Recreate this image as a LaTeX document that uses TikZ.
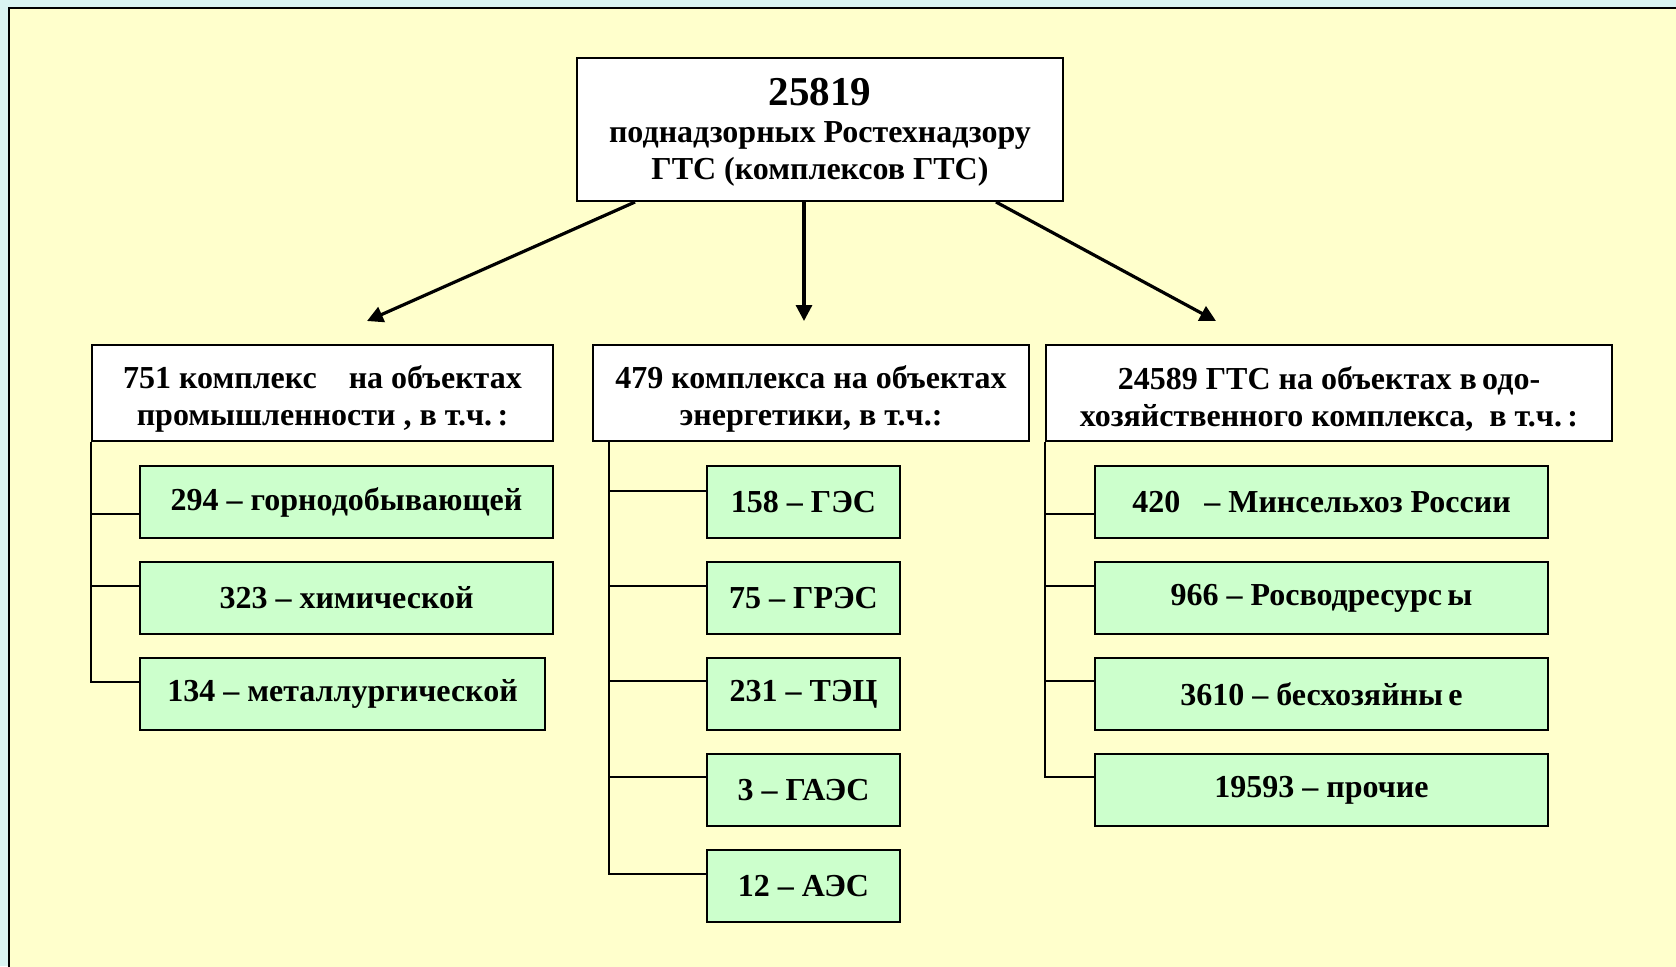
\documentclass[tikz,border=0pt]{standalone}
\usepackage{fontspec}
\setmainfont{Liberation Serif}
\usetikzlibrary{arrows.meta}

\definecolor{slidecyan}{HTML}{DAF4F2}
\definecolor{slideyellow}{HTML}{FFFFCC}
\definecolor{itemgreen}{HTML}{CCFFCC}

\newcommand\headstrut{\rule{0pt}{17pt}}

\tikzset{
	headbox/.style={draw=black,line width=1pt,fill=white,align=center,inner sep=0pt},
	itembox/.style={draw=black,line width=1pt,fill=itemgreen,inner sep=0pt,minimum height=36pt},
	tree/.style={line width=1pt},
	bigarrow/.style={line width=1.6pt,-{Triangle[length=8pt,width=8pt]}}
}

\begin{document}
\begin{tikzpicture}[x=0.5pt,y=-0.5pt]
	\useasboundingbox (0,0) rectangle (1676,966);
	\clip (0,0) rectangle (1676,966);
	\fill[slidecyan] (0,0) rectangle (1676,966);
	\draw[line width=1.2pt,fill=slideyellow] (9,8) rectangle (1700,1000);

	\begin{scope}[font=\fontsize{16}{18.5}\selectfont\bfseries]
		\node[headbox,minimum width=243pt,minimum height=71.5pt] (top) at (820,129.5)
			{\rule{0pt}{16.5pt}{\fontsize{20.5}{22}\selectfont 25819}\\поднадзорных Ростехнадзору\\ГТС (комплексов ГТС)};

		\begin{scope}[every node/.style={headbox,minimum height=48pt}]
			\node[minimum width=230.5pt] (ind) at (322.5,393) {\headstrut 751 комплекс\quad на объектах\\промышленности , в т.ч.\,:};
			\node[minimum width=218pt] (en) at (811,393) {\headstrut 479 комплекса на объектах\\энергетики, в т.ч.:};
			\node[minimum width=283pt] (vod) at (1329,393) {\headstrut 24589 ГТС на объектах в\,одо-\\хозяйственного комплекса,\ \ в т.ч.\,:};
		\end{scope}

		\begin{scope}[every node/.style={itembox}]
			\node[minimum width=206.5pt] (i1) at (346.5,502) {294 – горнодобывающей};
			\node[minimum width=206.5pt] (i2) at (346.5,598) {323 – химической};
			\node[minimum width=202.5pt] (i3) at (342.5,694) {134 – металлургической};

			\node[minimum width=96.5pt] (e1) at (803.5,502) {158 – ГЭС};
			\node[minimum width=96.5pt] (e2) at (803.5,598) {75 – ГРЭС};
			\node[minimum width=96.5pt] (e3) at (803.5,694) {231 – ТЭЦ};
			\node[minimum width=96.5pt] (e4) at (803.5,790) {3 – ГАЭС};
			\node[minimum width=96.5pt] (e5) at (803.5,886) {12 – АЭС};

			\node[minimum width=226.5pt] (v1) at (1321.5,502) {420\enspace\ – Минсельхоз\ России};
			\node[minimum width=226.5pt] (v2) at (1321.5,598) {966 – Росводресурс\,ы};
			\node[minimum width=226.5pt] (v3) at (1321.5,694) {3610 – бесхозяйны\,е};
			\node[minimum width=226.5pt] (v4) at (1321.5,790) {19593 – прочие};
		\end{scope}
	\end{scope}

	% arrows from the top box
	\coordinate (a1) at (367,321);
	\coordinate (a2) at (804,321);
	\coordinate (a3) at (1216,321);
	\draw[bigarrow] ([xshift=-92.5pt]top.south) -- (a1);
	\draw[bigarrow] ([xshift=-8pt]top.south) -- (a2);
	\draw[bigarrow] ([xshift=88pt]top.south) -- (a3);

	% industry
	\draw[tree] (ind.south west) |- ([yshift=-6pt]i1.west);
	\draw[tree] (ind.south west) |- ([yshift=6pt]i2.west);
	\draw[tree] (ind.south west) |- ([yshift=6pt]i3.west);

	% energy
	\draw[tree] ([xshift=8.5pt]en.south west) |- ([yshift=5.5pt]e1.west);
	\draw[tree] ([xshift=8.5pt]en.south west) |- ([yshift=6pt]e2.west);
	\draw[tree] ([xshift=8.5pt]en.south west) |- ([yshift=6.5pt]e3.west);
	\draw[tree] ([xshift=8.5pt]en.south west) |- ([yshift=6.5pt]e4.west);
	\draw[tree] ([xshift=8.5pt]en.south west) |- ([yshift=6pt]e5.west);

	% water
	\draw[tree] (vod.south west) |- ([yshift=-6pt]v1.west);
	\draw[tree] (vod.south west) |- ([yshift=6pt]v2.west);
	\draw[tree] (vod.south west) |- ([yshift=6.5pt]v3.west);
	\draw[tree] (vod.south west) |- ([yshift=6.5pt]v4.west);
\end{tikzpicture}
\end{document}
